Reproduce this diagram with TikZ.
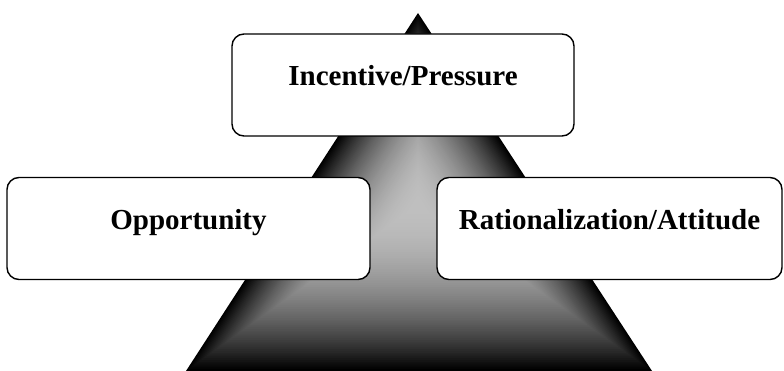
\documentclass[tikz,border=0pt]{standalone}
\usepackage{fontspec}
\setmainfont{Liberation Serif}
\usepackage{xcolor}
\usepackage{tikz}
\usetikzlibrary{positioning,calc}

\tikzset{
  factor/.style={draw, rectangle, rounded corners=12pt, line width=1.4pt, fill=white,
    inner sep=0pt, text height=52pt, text depth=50pt, align=center,
    font=\bfseries\fontsize{29}{34}\selectfont}
}

\begin{document}
\begin{tikzpicture}[x=1pt, y=-1pt]
            \useasboundingbox (0,0) rectangle (784,371);

            % the shaded triangle
            \coordinate (apex) at (418,13);
            \coordinate (baseLeft) at (186,371);
            \coordinate (baseRight) at (652,371);
            \coordinate (core) at (418,205);
            \foreach \k in {0,...,90} {
                \pgfmathsetmacro\s{1-\k/91}
                \pgfmathsetmacro\p{25+75*\s*\s}
                \fill[black!\p] ($(core)!\s!(apex)$) -- ($(core)!\s!(baseLeft)$) -- ($(core)!\s!(baseRight)$) -- cycle;
            }

            \node (incentive) [factor, text width=342pt] at (403,85) {Incentive/Pressure};
            \node (opportunity) [factor, text width=363pt] at (188.5,228.5) {Opportunity};
            \node (rationalization) [factor, text width=345pt] at (609.5,228.5) {Rationalization/Attitude};
        \end{tikzpicture}
\end{document}
